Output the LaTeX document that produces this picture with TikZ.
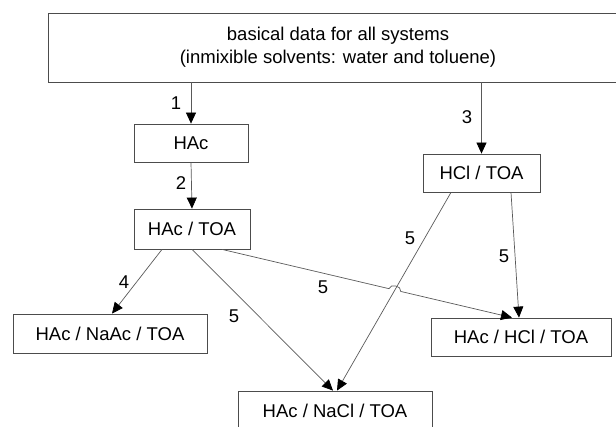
\documentclass[tikz,border=0pt]{standalone}
\usepackage{fontspec}
\setmainfont{Liberation Sans}
\usetikzlibrary{arrows.meta,calc,intersections}

\begin{document}
\begin{tikzpicture}[x=1pt,y=1pt,
  box/.style={draw=black!70, line width=0.8pt, inner sep=0pt, align=center,
              font=\fontsize{18.5}{23}\selectfont},
  flow/.style={draw=black!65, line width=0.7pt,
               -{Triangle[length=11pt,width=10pt,color=black]}},
  num/.style={font=\fontsize{18.5}{23}\selectfont, inner sep=0pt}]

\useasboundingbox (0,0) rectangle (616,426);
\clip (0,0) rectangle (616,426);

% boxes
\node[box, minimum width=580pt, minimum height=69pt] (top) at (338,378.5)
  {basical data for all systems\\(inmixible solvents: water and toluene)};
\node[box, minimum width=114pt, minimum height=38pt] (hac)    at (191,283)   {HAc};
\node[box, minimum width=117pt, minimum height=38pt] (hcltoa) at (481.5,253) {HCl / TOA};
\node[box, minimum width=116pt, minimum height=40pt] (hactoa) at (192,197)   {HAc / TOA};
\node[box, minimum width=194pt, minimum height=39pt] (naac)   at (110,92.5)  {HAc / NaAc / TOA};
\node[box, minimum width=180pt, minimum height=38pt] (hcl3)   at (521,89)    {HAc / HCl / TOA};
\node[box, minimum width=194pt, minimum height=39pt] (nacl)   at (335,15.5)  {HAc / NaCl / TOA};

% connector end points on the box edges
\coordinate (aL)  at ([xshift=-30pt]hactoa.south);
\coordinate (aR)  at ([xshift=30pt]hactoa.south);
\coordinate (bL)  at ([xshift=-30.5pt]hcltoa.south);
\coordinate (bR)  at ([xshift=29.5pt]hcltoa.south);
\coordinate (naT) at ([xshift=2pt]naac.north);
\coordinate (ncL) at ([xshift=-2pt]nacl.north);
\coordinate (ncR) at ([xshift=2pt]nacl.north);
\coordinate (hcL) at ([xshift=-9pt]hcl3.north);
\coordinate (hcR) at ([xshift=-2pt]hcl3.north);

% connectors
\draw[flow] (hac.north |- top.south) -- (hac.north);
\draw[flow] (hac.south) -- (hactoa.north);
\draw[flow] (hcltoa.north |- top.south) -- (hcltoa.north);
\draw[flow] (aL) -- (naT);
\draw[flow] (hactoa.south) -- (ncL);
\draw[flow, name path=lnB] (bL) -- (ncR);
\draw[flow] (bR) -- (hcR);

% long connector hopping over the crossing line
\path[name path=lnA] (aR) -- (hcL);
\path[name intersections={of=lnA and lnB, by=cross}];
\draw[flow] (aR) -- ($(cross)!6pt!(aR)$) to[bend left=90, looseness=1.2]
  ($(cross)!6pt!(hcL)$) -- (hcL);

% labels
\node[num] (n1) at (176,323) {1};
\node[num] (n2) at (181,243) {2};
\node[num] (n3) at (467,309) {3};
\node[num] (n4) at (124,144) {4};
\node[num] (n5a) at (234,110) {5};
\node[num] (n5b) at (323,139) {5};
\node[num] (n5c) at (410,188) {5};
\node[num] (n5d) at (504,170) {5};
\end{tikzpicture}
\end{document}
